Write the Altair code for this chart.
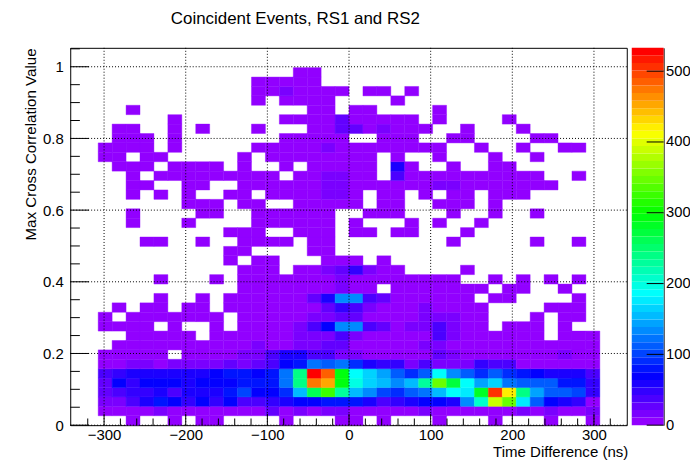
import colorsys

import altair as alt
import pandas as pd

# estimated counts, one list per y bin (row_00 is the bottom), 36 time bins each
row_00 = [0,0,3,0,0,3,0,3,3,0,0,0,0,3,0,0,0,3, 3,0,3,0,0,0,3,0,0,0,3,0,0,0,3,0,0,3]
row_01 = [3,3,3,3,16,3,3,3,3,3,3,3,27,3,16,3,16,16, 3,3,3,3,3,16,3,3,3,3,3,3,16,3,16,3,3,16]
row_02 = [20,20,37,59,80,69,48,69,48,69,37,37,48,59,69,69,80,80, 80,59,37,48,59,69,69,59,133,208,389,346,176,112,69,59,48,5]
row_03 = [27,37,48,48,59,37,59,59,59,80,101,69,69,91,155,261,325,229, 155,133,101,91,112,123,155,186,176,282,506,421,240,144,112,112,101,48]
row_04 = [27,69,48,69,69,69,59,69,69,69,80,80,80,123,240,475,453,293, 197,165,155,133,155,229,346,272,186,144,165,123,112,112,112,80,80,48]
row_05 = [37,48,59,59,59,59,59,59,69,80,80,69,80,123,240,528,485,293, 186,165,144,112,91,112,186,133,112,91,112,91,80,69,59,59,59,37]
row_06 = [5,5,16,16,5,16,16,16,16,27,16,27,37,69,80,123,112,123, 91,59,48,48,16,37,16,16,16,48,37,37,5,5,5,5,5,5]
row_07 = [5,5,5,5,5,0,5,5,5,5,12,20,37,59,59,37,37,16, 16,5,5,5,5,5,27,16,5,5,5,5,5,5,5,12,5,5]
row_08 = [0,3,3,3,3,3,3,3,3,3,3,12,3,3,12,12,27,27, 3,3,3,3,3,12,12,3,3,3,3,3,3,3,3,3,3,3]
row_09 = [0,0,3,3,3,3,3,0,3,3,3,3,3,3,12,12,12,37, 20,3,3,3,3,3,32,16,3,3,3,3,3,3,0,3,3,3]
row_10 = [3,3,3,3,0,3,0,0,3,0,3,3,3,3,12,37,69,133, 133,37,27,5,12,12,37,12,3,3,0,3,3,3,0,3,0,0]
row_11 = [3,0,3,3,3,3,3,3,3,0,3,3,3,3,3,12,12,27, 27,3,3,3,3,12,12,12,3,3,0,0,0,3,0,3,3,0]
row_12 = [0,3,0,3,3,0,3,3,0,3,3,3,3,3,3,5,27,48, 37,16,3,3,3,12,3,3,3,3,0,0,0,0,3,3,3,0]
row_13 = [0,0,0,0,3,0,0,3,0,3,3,3,3,3,3,27,59,133, 133,37,27,3,3,3,3,3,3,0,3,3,0,0,0,0,3,0]
row_14 = [0,0,0,0,0,0,0,0,0,0,3,3,3,3,3,3,3,12, 3,3,0,3,3,3,3,3,3,3,0,3,3,0,0,3,0,0]
row_15 = [0,0,0,0,3,0,0,0,3,0,3,3,3,3,3,3,3,12, 3,3,3,3,3,3,3,3,0,0,3,0,3,0,3,0,3,0]
row_16 = [0,0,0,0,0,0,0,0,0,0,3,3,3,0,3,3,12,27, 48,16,3,3,0,0,0,0,3,0,0,0,0,0,0,0,0,0]
row_17 = [0,0,0,0,0,0,0,0,0,3,0,3,3,0,0,0,3,3, 3,0,3,0,0,0,0,0,0,0,0,0,0,0,0,0,0,0]
row_18 = [0,0,0,0,0,0,0,0,0,3,3,0,0,0,0,3,3,0, 0,0,0,0,0,0,0,0,0,0,0,0,0,0,0,0,0,0]
row_19 = [0,0,0,3,3,0,0,3,0,0,3,3,3,3,0,3,3,0, 0,0,0,0,0,0,0,3,0,0,0,0,0,3,0,0,3,0]
row_20 = [0,0,0,0,0,0,0,0,0,3,3,3,0,0,3,3,3,0, 3,3,0,3,3,0,0,0,3,0,0,0,0,0,0,0,0,0]
row_21 = [0,0,3,0,0,0,3,0,0,0,0,3,3,3,3,3,3,0, 3,0,0,0,3,0,3,0,0,3,0,0,0,0,0,0,0,0]
row_22 = [0,0,3,0,0,0,0,3,3,0,0,3,3,3,3,3,3,0, 0,3,3,3,0,0,0,3,0,0,3,0,0,3,0,0,0,0]
row_23 = [0,0,0,0,0,0,3,3,3,0,3,3,0,0,3,3,3,3, 3,0,3,3,0,0,3,3,3,0,3,0,0,0,0,0,0,0]
row_24 = [0,0,3,0,3,0,3,0,0,3,3,0,3,3,3,3,12,12, 3,0,3,3,0,3,0,3,3,0,3,3,3,0,0,0,0,0]
row_25 = [0,0,3,3,0,0,3,3,0,0,3,3,3,3,3,3,12,12, 3,3,3,3,3,3,12,12,3,3,3,3,3,3,3,0,0,0]
row_26 = [0,0,3,0,3,3,3,3,3,3,3,3,3,0,3,3,12,12, 3,3,0,37,3,3,3,3,3,3,3,3,3,3,0,0,3,0]
row_27 = [0,3,3,3,0,3,3,3,3,0,3,0,0,3,0,3,3,3, 3,3,0,59,3,0,0,3,0,0,3,3,0,0,0,0,0,0]
row_28 = [3,3,0,3,3,0,0,0,0,0,3,0,3,3,3,3,3,3, 3,3,0,3,0,0,3,0,0,0,3,0,0,3,0,0,0,0]
row_29 = [3,3,3,3,0,3,0,0,0,0,0,3,3,3,3,3,12,3, 3,3,3,3,3,3,3,0,0,3,0,0,3,0,0,3,3,0]
row_30 = [0,3,3,3,0,3,0,0,0,0,0,0,0,3,3,3,3,3, 0,0,3,3,3,0,0,3,3,0,0,0,0,3,3,0,0,0]
row_31 = [0,3,3,0,0,3,0,3,0,0,0,3,0,0,0,3,3,27, 27,3,12,3,3,3,0,0,3,0,0,0,3,0,0,0,0,0]
row_32 = [0,0,0,0,0,3,0,0,0,0,0,0,0,3,3,3,3,27, 3,3,3,3,3,0,3,0,0,0,0,3,0,0,0,0,0,0]
row_33 = [0,0,3,0,0,0,0,0,0,0,0,0,0,0,0,3,3,0, 3,3,0,0,0,0,3,0,0,0,0,0,0,0,0,0,0,0]
row_34 = [0,0,0,0,0,0,0,0,0,0,0,3,0,3,3,3,3,0, 0,0,0,3,0,0,0,0,0,0,0,0,0,0,0,0,0,0]
row_35 = [0,0,0,0,0,0,0,0,0,0,0,3,3,12,3,3,3,3, 0,3,3,0,3,0,0,0,0,0,0,0,0,0,0,0,0,0]
row_36 = [0,0,0,0,0,0,0,0,0,0,0,3,3,3,3,3,0,0, 0,0,0,0,0,0,0,0,0,0,0,0,0,0,0,0,0,0]
row_37 = [0,0,0,0,0,0,0,0,0,0,0,0,0,0,3,3,0,0, 0,0,0,0,0,0,0,0,0,0,0,0,0,0,0,0,0,0]

rows = [
    row_00, row_01, row_02, row_03, row_04, row_05, row_06, row_07, row_08, row_09,
    row_10, row_11, row_12, row_13, row_14, row_15, row_16, row_17, row_18, row_19,
    row_20, row_21, row_22, row_23, row_24, row_25, row_26, row_27, row_28, row_29,
    row_30, row_31, row_32, row_33, row_34, row_35, row_36, row_37,
]

x_major = [-300, -200, -100, 0, 100, 200, 300]
x_minor = [-320, -280, -260, -240, -220, -180, -160, -140, -120, -80, -60, -40, -20,
           20, 40, 60, 80, 120, 140, 160, 180, 220, 240, 260, 280, 320]
y_major = [0, 0.2, 0.4, 0.6, 0.8, 1]
y_minor = [0.05, 0.1, 0.15, 0.25, 0.3, 0.35, 0.45, 0.5, 0.55, 0.65, 0.7, 0.75, 0.85, 0.9, 0.95, 1.05]
z_major = [0, 100, 200, 300, 400, 500]

X_DOMAIN = [-341.46, 340.2]
Y_DOMAIN = [0, 1.0528]
Z_MAX = 533
BIN_X = 614.4 / 36
BIN_Y = 0.02625
FONT = "Liberation Sans"
PLOT_HEIGHT = 379

# ROOT's default 50 colour rainbow
palette = []
for i in range(50):
    r, g, b = colorsys.hls_to_rgb((280 - (i + 1) * 5.6) / 360, 0.5, 1)
    palette.append("#%02x%02x%02x" % (round(r * 255), round(g * 255), round(b * 255)))
z_scale = alt.Scale(type="quantize", domain=[0, Z_MAX], range=palette)

cells = []
for j, row in enumerate(rows):
    for i, count in enumerate(row):
        if count > 0:
            cells.append({
                "x0": -307.2 + i * BIN_X,
                "x1": -307.2 + (i + 1) * BIN_X,
                "y0": j * BIN_Y,
                "y1": (j + 1) * BIN_Y,
                "count": count,
            })
cells = pd.DataFrame(cells)

x_enc = alt.X(
    "x0:Q",
    scale=alt.Scale(domain=X_DOMAIN, nice=False, zero=False),
    axis=alt.Axis(
        values=x_major, format="d", grid=False, ticks=False, domain=False,
        labelFont=FONT, labelFontSize=15, labelColor="black", labelPadding=2,
        labelFlush=False, title="Time Difference (ns)", titleFont=FONT,
        titleFontSize=15.1, titleFontWeight="normal", titleAnchor="end",
        titleAlign="right", titleBaseline="alphabetic", titleX=560, titleY=31,
    ),
)
y_enc = alt.Y(
    "y0:Q",
    scale=alt.Scale(domain=Y_DOMAIN, nice=False, zero=False),
    axis=alt.Axis(
        values=y_major, format="~g", grid=False, ticks=False, domain=False,
        labelFont=FONT, labelFontSize=15, labelColor="black", labelPadding=7,
        title="Max Cross Correlation Value", titleFont=FONT, titleFontSize=15.2,
        titleFontWeight="normal", titleAlign="right", titleBaseline="alphabetic",
        titleAngle=270, titleX=-35, titleY=0,
    ),
)

heat = alt.Chart(cells).mark_rect(strokeWidth=0.4).encode(
    x=x_enc,
    x2="x1:Q",
    y=y_enc,
    y2="y1:Q",
    color=alt.Color("count:Q", scale=z_scale, legend=None),
    stroke=alt.Stroke("count:Q", scale=z_scale, legend=None),
)

grid_x = alt.Chart(pd.DataFrame({"v": x_major})).mark_rule(
    color="black", strokeWidth=1, strokeDash=[1, 2]
).encode(x="v:Q")
grid_y = alt.Chart(pd.DataFrame({"v": y_major})).mark_rule(
    color="black", strokeWidth=1, strokeDash=[1, 2]
).encode(y="v:Q")


def x_ticks(values, length):
    """Returns inward ticks along the bottom of the frame."""
    return alt.Chart(pd.DataFrame({"v": values})).mark_rule(color="black", strokeWidth=1).encode(
        x="v:Q", y=alt.datum(0), y2=alt.Y2(datum=length)
    )


def y_ticks(values, length):
    """Returns inward ticks along the left of the frame."""
    return alt.Chart(pd.DataFrame({"v": values})).mark_rule(color="black", strokeWidth=1).encode(
        y="v:Q", x=alt.datum(X_DOMAIN[0]), x2=alt.X2(datum=X_DOMAIN[0] + length)
    )


main = alt.layer(
    heat, grid_x, grid_y,
    x_ticks(x_major, 0.0314), x_ticks(x_minor, 0.0186),
    y_ticks(y_major, 23), y_ticks(y_minor, 11.8),
).properties(
    width=559,
    height=PLOT_HEIGHT,
    view=alt.ViewConfig(stroke="black", strokeWidth=1),
    title=alt.TitleParams(
        "Coincident Events, RS1 and RS2", anchor="start", frame="group", dx=101,
        offset=19, font=FONT, fontSize=17, fontWeight="normal",
    ),
)

band_low = [Z_MAX * i / 50 for i in range(50)]
bands = pd.DataFrame({
    "low": band_low,
    "high": [v + Z_MAX / 50 for v in band_low],
    "mid": [v + Z_MAX / 100 for v in band_low],
})

bar_x = alt.X(datum=0, scale=alt.Scale(domain=[0, 32], nice=False, zero=False), axis=None)
bar = alt.Chart(bands).mark_rect().encode(
    x=bar_x,
    x2=alt.X2(datum=32),
    y=alt.Y(
        "low:Q",
        scale=alt.Scale(domain=[0, Z_MAX], nice=False, zero=False),
        axis=alt.Axis(
            orient="right", values=z_major, grid=False, ticks=False, domain=True,
            domainColor="black", domainWidth=1, labelFont=FONT, labelFontSize=14.8,
            labelColor="black", labelPadding=2, title=None,
        ),
    ),
    y2="high:Q",
    color=alt.Color("mid:Q", scale=z_scale, legend=None),
)
bar_ticks = alt.Chart(pd.DataFrame({"v": z_major})).mark_rule(color="black", strokeWidth=1).encode(
    y="v:Q",
    x=alt.X(datum=15, scale=alt.Scale(domain=[0, 32], nice=False, zero=False), axis=None),
    x2=alt.X2(datum=32),
)
colorbar = alt.layer(bar, bar_ticks).properties(
    width=32,
    height=PLOT_HEIGHT,
    view=alt.ViewConfig(strokeWidth=0),
)

chart = alt.hconcat(main, colorbar, spacing=3).resolve_scale(color="independent").properties(
    padding={"left": 14.5, "top": 1, "right": -0.5, "bottom": 0},
    background="white",
)

chart.save("out.html", embed_options={"renderer": "svg", "actions": False})
